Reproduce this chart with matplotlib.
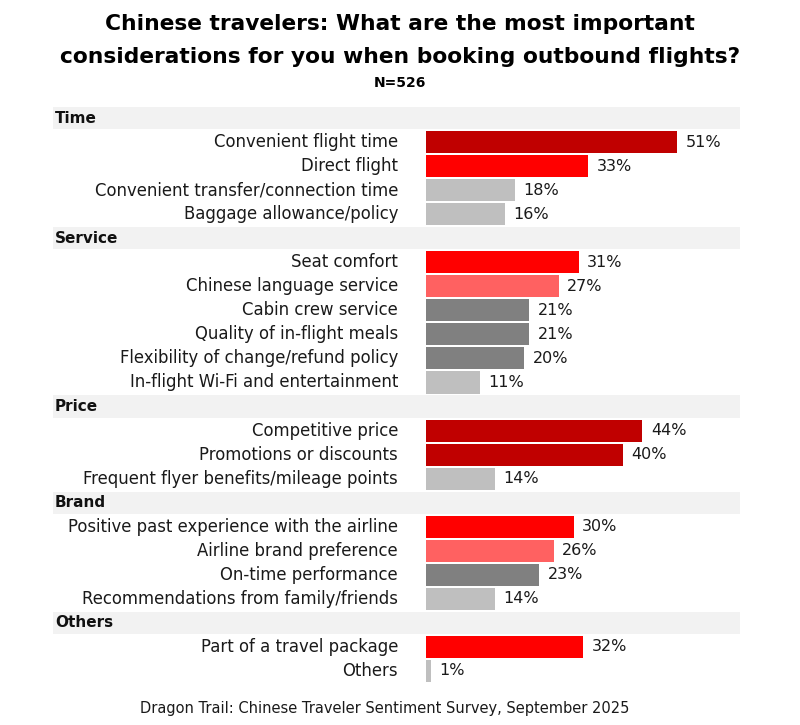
import matplotlib.pyplot as plt

plt.rcParams['font.family'] = ['DejaVu Sans']

groups = ["Time", "Time", "Time", "Time",
          "Service", "Service", "Service", "Service", "Service", "Service",
          "Price", "Price", "Price",
          "Brand", "Brand", "Brand", "Brand",
          "Others", "Others"]
labels = ["Convenient flight time", "Direct flight",
          "Convenient transfer/connection time", "Baggage allowance/policy",
          "Seat comfort", "Chinese language service", "Cabin crew service",
          "Quality of in-flight meals", "Flexibility of change/refund policy",
          "In-flight Wi-Fi and entertainment",
          "Competitive price", "Promotions or discounts",
          "Frequent flyer benefits/mileage points",
          "Positive past experience with the airline", "Airline brand preference",
          "On-time performance", "Recommendations from family/friends",
          "Part of a travel package", "Others"]
values = [51, 33, 18, 16,
          31, 27, 21, 21, 20, 11,
          44, 40, 14,
          30, 26, 23, 14,
          32, 1]
colors = ["#C00000", "#FF0000", "#BFBFBF", "#BFBFBF",
          "#FF0000", "#FF6161", "#808080", "#808080", "#808080", "#BFBFBF",
          "#C00000", "#C00000", "#BFBFBF",
          "#FF0000", "#FF6161", "#808080", "#BFBFBF",
          "#FF0000", "#BFBFBF"]

W, H = 800, 725
fig = plt.figure(figsize=(8, 7.25), dpi=100)

# axes in pixel terms: bands from x=53 to 740, rows from y=106 to 683
px_per_pct = 4.92
x0 = 426
ax = fig.add_axes([53 / W, 1 - 683 / H, (740 - 53) / W, (683 - 106) / H])
xmin = -(x0 - 53) / px_per_pct
xmax = (740 - x0) / px_per_pct
ax.set_xlim(xmin, xmax)
ax.axis('off')

row = 0
prev = None
for g, lab, v, c in zip(groups, labels, values, colors):
    if g != prev:
        ax.barh(row, xmax - xmin, left=xmin, height=0.92, color="#F2F2F2")
        ax.text(xmin + 0.4, row, g, ha='left', va='center',
                fontsize=11, fontweight='bold', color='#111111')
        row += 1
        prev = g
    ax.barh(row, v, height=0.92, color=c)
    ax.text(-(x0 - 398) / px_per_pct, row, lab, ha='right', va='center',
            fontsize=11.9, color='#1a1a1a')
    ax.annotate(f"{v}%", (v, row), xytext=(6, 0), textcoords='offset points',
                ha='left', va='center', fontsize=11.5, color='#1a1a1a')
    row += 1

ax.set_ylim(row - 0.5, -0.5)

fig.text(0.5, 1 - 24 / H, "Chinese travelers: What are the most important",
         ha='center', va='center', fontsize=15.7, fontweight='bold')
fig.text(0.5, 1 - 57 / H, "considerations for you when booking outbound flights?",
         ha='center', va='center', fontsize=15.7, fontweight='bold')
fig.text(0.5, 1 - 83 / H, "N=526", ha='center', va='center',
         fontsize=10, fontweight='bold')
fig.text(385 / W, 1 - 708 / H,
         "Dragon Trail: Chinese Traveler Sentiment Survey, September 2025",
         ha='center', va='center', fontsize=10.5, color='#1a1a1a')

fig.savefig("out.png", dpi=100)
